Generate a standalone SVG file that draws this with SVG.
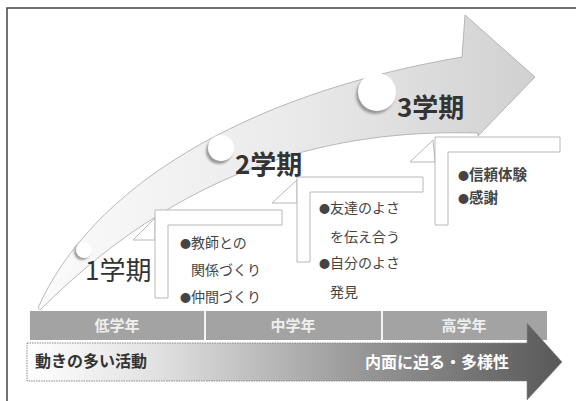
<svg xmlns="http://www.w3.org/2000/svg" width="576" height="401" viewBox="0 0 576 401">
<defs>
<linearGradient id="bandGrad" x1="40" y1="0" x2="540" y2="0" gradientUnits="userSpaceOnUse">
<stop offset="0" stop-color="#fbfbfb"/>
<stop offset="0.5" stop-color="#eaeaea"/>
<stop offset="1" stop-color="#d0d0d0"/>
</linearGradient>
<linearGradient id="flowGrad" x1="27" y1="0" x2="562" y2="0" gradientUnits="userSpaceOnUse">
<stop offset="0" stop-color="#ffffff"/>
<stop offset="0.25" stop-color="#e0e0e0"/>
<stop offset="0.6" stop-color="#9c9c9c"/>
<stop offset="1" stop-color="#585858"/>
</linearGradient>
<filter id="soft" x="-20%" y="-20%" width="140%" height="140%">
<feGaussianBlur stdDeviation="1"/>
</filter>
</defs>
<style>
.frame{fill:none;stroke:#444;stroke-width:1.5}
.band{fill:url(#bandGrad);stroke:#a8a8a8;stroke-width:0.8}
.notch{fill:#fff}
.shadow{fill:#9a9a9a;filter:url(#soft)}
.step{fill:#fff;stroke:#b8b8b8;stroke-width:1}
.fold{fill:#fff;stroke:#b8b8b8;stroke-width:1}
.term{font-family:"Noto Sans CJK JP","Noto Sans CJK SC",sans-serif;font-size:26px;fill:#333}
.b{font-weight:bold}
.item{font-family:"Noto Sans CJK JP","Noto Sans CJK SC",sans-serif;font-size:14px;fill:#444}
.itemb{font-family:"Noto Sans CJK JP","Noto Sans CJK SC",sans-serif;font-size:14.5px;font-weight:bold;fill:#444}
.dot{font-size:11px}
.grade{fill:#a3a3a3}
.gtxt{font-family:"Noto Sans CJK JP","Noto Sans CJK SC",sans-serif;font-size:15px;font-weight:bold;fill:#efefef;text-anchor:middle}
.flow{fill:url(#flowGrad);stroke:#888;stroke-width:1;stroke-dasharray:1.5 1}
.ftxt{font-family:"Noto Sans CJK JP","Noto Sans CJK SC",sans-serif;font-size:16px;font-weight:bold}
</style>

<rect class="frame" x="7" y="8" width="600" height="420"/>

<g id="growth-arrow">
<path class="band" d="M38,308 C90,190 240,95 462,57 L465,15 L535,77 L478,136 L478,133 C360,130 200,150 40,310 Z"/>
<circle class="shadow" cx="82" cy="252" r="8"/>
<circle class="notch" cx="84" cy="250" r="8"/>
<circle class="shadow" cx="219" cy="151" r="13"/>
<circle class="notch" cx="221" cy="148" r="13"/>
<circle class="shadow" cx="375" cy="95" r="19"/>
<circle class="notch" cx="377" cy="92" r="19"/>
</g>

<g id="term1">
<text class="term" x="85" y="280">1学期</text>
</g>
<g id="term2">
<text class="term b" x="235" y="174">2学期</text>
</g>
<g id="term3">
<text class="term b" x="397" y="117">3学期</text>
</g>

<g id="step1">
<polygon class="fold" points="155,218 133,240 155,240"/>
<path class="step" d="M155,210 H282 V225 H168 V298 H155 Z"/>
<text class="item" x="180" y="248"><tspan class="dot">●</tspan>教師との</text>
<text class="item" x="191" y="275">関係づくり</text>
<text class="item" x="180" y="302"><tspan class="dot">●</tspan>仲間づくり</text>
</g>

<g id="step2">
<polygon class="fold" points="297,180 272,203 297,203"/>
<path class="step" d="M297,177 H423 V192 H310 V262 H297 Z"/>
<text class="item" x="319" y="213"><tspan class="dot">●</tspan>友達のよさ</text>
<text class="item" x="330" y="242">を伝え合う</text>
<text class="item" x="319" y="268"><tspan class="dot">●</tspan>自分のよさ</text>
<text class="item" x="330" y="297">発見</text>
</g>

<g id="step3">
<polygon class="fold" points="433,140 410,162 435,162"/>
<path class="step" d="M435,137 H560 V152 H448 V225 H435 Z"/>
<text class="itemb" x="458" y="180"><tspan class="dot">●</tspan>信頼体験</text>
<text class="itemb" x="458" y="203"><tspan class="dot">●</tspan>感謝</text>
</g>

<g id="grades">
<rect class="grade" x="30" y="311" width="517" height="29"/>
<line x1="205" y1="311" x2="205" y2="340" stroke="#f4f4f4" stroke-width="2"/>
<line x1="382" y1="311" x2="382" y2="340" stroke="#f4f4f4" stroke-width="2"/>
<text class="gtxt" x="117" y="331">低学年</text>
<text class="gtxt" x="293" y="331">中学年</text>
<text class="gtxt" x="464" y="331">高学年</text>
</g>

<g id="flow-arrow">
<path class="flow" d="M27,343 H527 V323 L562,362 L527,400 V381 H27 Z"/>
<text class="ftxt" x="35" y="367" fill="#333">動きの多い活動</text>
<text class="ftxt" x="365" y="368" fill="#fff">内面に迫る・多様性</text>
</g>
</svg>
